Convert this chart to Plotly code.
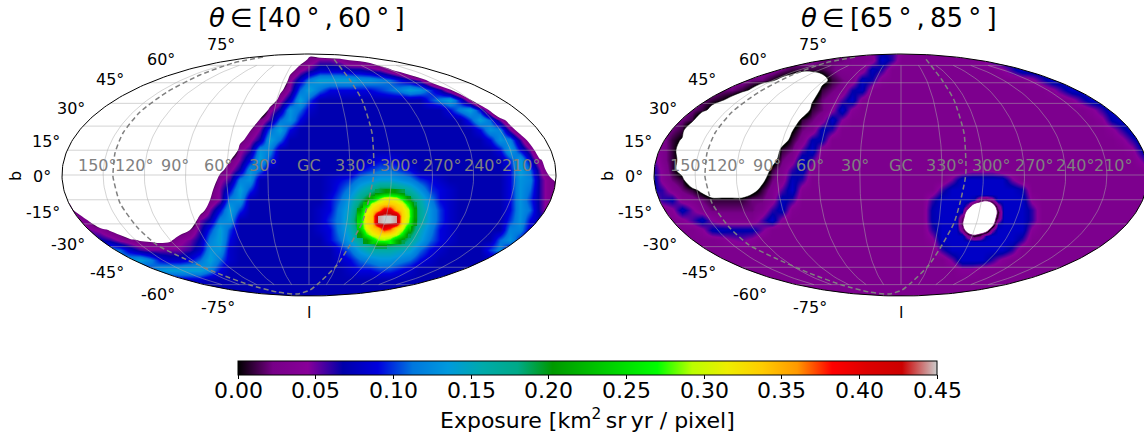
import numpy as np
import plotly.graph_objects as go

W, H = 1144, 434
FONT = "DejaVu Sans"
M = -4  # cells with no exposure in the right map
N = None

colorbar_ticks = [0.0, 0.05, 0.10, 0.15, 0.20, 0.25, 0.30, 0.35, 0.40, 0.45]
lat_labels = [75, 60, 45, 30, 15, 0, -15, -30, -45, -60, -75]
lon_labels = ["150°", "120°", "90°", "60°", "30°", "GC", "330°", "300°", "270°", "240°", "210°"]
titles = ["<i>θ</i>\u2009∈\u2009[40\u2009°\u2009,\u200960\u2009°\u2009]",
          "<i>θ</i>\u2009∈\u2009[65\u2009°\u2009,\u200985\u2009°\u2009]"]

# dashed curve, map units
plane_x = [-46, -76, -109, -142, -169, -186, -194, -196, -196, -189, -172, -152, -126, -92, -59, -32, -12, 1, 11, 28, 41, 53, 59, 64, 65, 63, 53, 41, 24]
plane_y = [118, 112, 100, 83, 63, 42, 22, 2, -2, -28, -52, -70, -83, -98, -110, -117, -119, -115, -107, -90, -70, -48, -28, -5, 5, 42, 75, 95, 117]

COLS = list(range(60, 570, 10))
ROWS = list(range(50, 310, 10))

def span(a, b, v):
    return (a, *[v] * ((b - a) // 10 + 1))

def row(base, *runs):
    out = [base] * len(COLS)
    for run in runs:
        i0 = (run[0] - 60) // 10
        for k, v in enumerate(run[1:]):
            out[i0 + k] = v
    return out

# exposure in units of 0.01, left map (theta 40-60)
left_rows = [
    row(0, (320, -8, -12, -12)),
    row(0, (310, 3, 5, 5, 4, 1.8, 1.25, .29, -2.5, -2)),
    row(0, (300, 4, 6, 8, 8, 8, 7, 7, 6, 5, 2.5, .25, -3, -10)),
    row(0, (280, -6), (290, 4, 8, 12, 14, 14, 14, 14, 13, 13, 12, 11, 9, 7, 5, 0, -5.5)),
    row(0, (280, .7), (290, 5, 11, 14, 11, 9, 9, 9, 9, 9, 10, 11, 12, 14, 13, 10, 7, 2.2, -2.7, -2)),
    row(0, (270, -2.7), (280, 4, 8, 14, 10), span(320, 420, 7), (430, 10, 12, 14, 9, 2.4, -5)),
    row(0, (260, -6), (270, 4, 7, 13, 11, 8), span(320, 440, 7), (450, 9, 12, 14, 9, 1, -10)),
    row(0, (250, -2), (260, 2.6, 6, 11, 13, 9), span(310, 460, 7), (470, 10, 14, 11, 5, -1)),
    row(0, (250, 1.7, 5, 11, 14, 9), span(300, 470, 7), (480, 9, 13, 12, 5, -.67)),
    row(0, (240, .67, 4, 7, 14, 11), span(290, 480, 7), (490, 9, 13, 12, 6, 0)),
    row(0, (230, -6, 4, 6, 13, 12), span(280, 490, 7), (500, 9, 14, 9, 5, -2)),
    row(0, (230, 1.7, 5, 9, 14, 10), span(280, 500, 7), (370, 8, 9, 9, 8), (510, 10, 14, 8, 2.4)),
    row(0, (220, .67, 4, 7, 13, 11), span(270, 500, 7), (360, 9, 10, 11, 11, 10, 9), (510, 9, 14, 11, 5, -.3)),
    row(0, (210, -2.7, 4, 6, 12, 13), span(260, 500, 7), (330, 8, 9, 10, 12, 13, 14, 14, 13, 12, 10, 9, 8), (510, 9, 13, 12, 6, 3)),
    row(7, span(60, 200, 0), (210, .7, 5, 9, 14, 10), (330, 8, 10, 12, 15, 17, 20, 20, 18, 16, 13, 10, 9, 8), (510, 9, 13, 11, 6, 3, 3)),
    row(7, (60, 3, 1.3), span(80, 200, 0), (210, 2, 5, 12, 13), (330, 9, 11, 14, 18, 22, 22, 22, 22, 20, 16, 12, 9, 8), (510, 9, 13, 10, 6, 3, 3)),
    row(7, (60, 3, 3), span(80, 190, 0), (200, -1), (210, 5, 9, 14, 10), (320, 8, 9, 12, 15, 21, 22, 22, 22, 22, 22, 17, 13, 10, 8), (510, 9, 13, 11, 6, 3, 3)),
    row(7, (60, 5, 5, 4, 1.25, -6), span(110, 180, 0), (190, -5), (200, 5, 7, 12, 13), (320, 8, 10, 12, 16, 22, 22, 22, 22, 22, 22, 17, 13, 10, 8), (510, 10, 13, 9, 7, 7, 7)),
    row(7, (60, 7, 7, 7, 5, 4, 1.55, 0, -6), span(140, 180, 0), (190, 2, 6, 10, 14, 10), (320, 8, 9, 12, 15, 20, 22, 22, 22, 22, 21, 15, 12, 9, 8), (510, 12, 12, 8)),
    row(7, (110, 6, 4, 3, 1.55, 1.25, .7, 1.25), (180, 4, 5, 7, 12, 14, 9), (330, 9, 11, 14, 17, 20, 22, 22, 21, 17, 14, 11, 9, 8), (500, 11, 13, 9)),
    row(7, (100, 11, 12, 11, 8, 6, 5, 5, 5, 5, 6, 8, 13, 13, 8), (340, 9, 11, 14, 16, 16, 16, 15, 14, 11, 9, 8), (490, 10, 12)),
    row(7, (120, 12, 13, 14, 12, 9, 8, 8, 9, 11, 14, 11, 8), (340, 8, 9, 11, 12, 13, 13, 12, 11, 9, 8)),
    row(7, (150, 10, 13, 14, 14, 14, 14, 12, 9), (350, 8, 9, 9, 10, 10, 9, 8)),
    row(7, (180, 8, 8, 8)),
    row(7),
    row(7),
]

# exposure in units of 0.01, right map (theta 65-85)
right_rows = [
    row(3, (280, 5, 6, 6, 4)),
    row(3, (230, 2, 2, 2, 3, 3, 3.5, 8, 6, 3), (390, 4, 6), span(410, 560, 7)),
    row(3, (190, 2, 1, 1, 1, 1, 2, 3, 3, 3.5, 7.5, 6, 3), (410, 4, 6), span(430, 560, 8)),
    row(3, (160, 2, 2, .5), (190, -.9, -1.5, -6, -6, -1.5), (240, 1, 2, 3, 7.5, 6.5, 3.5), (440, 4, 6), span(460, 560, 8)),
    row(3, (130, 2, 2, 1, -.5), span(170, 220, M), (230, 1, 2, 3, 6.5, 7.5, 3), (460, 4, 6), span(480, 560, 8)),
    row(3, (110, 2, 1, .3, -1.3), span(150, 210, M), (220, -.5, 2, 3, 5.5, 8, 3.5), (480, 4, 6), span(500, 560, 8)),
    row(3, (100, 2, 1, -1), span(130, 210, M), (220, 1, 2, 4, 8, 4), (500, 4, 6), span(520, 560, 8)),
    row(3, (90, 2, 1), span(110, 200, M), (210, 1, 2, 3.5, 8, 4.5), (510, 4, 7), span(530, 560, 8)),
    row(3, (80, 2, 1), span(100, 190, M), (200, -.3, 2, 3, 7.5, 6, 3), (520, 4, 6), span(540, 560, 8)),
    row(3, (80, 1, -.25), span(100, 180, M), (190, -2), (200, 1, 3, 7, 7, 3), (530, 4, 6), span(550, 560, 8)),
    row(3, (60, 4, 3, 1, -1.5), span(100, 180, M), (190, 1, 2, 5.5, 8, 3.5), (540, 4, 7, 8)),
    row(3, (60, 6, 3, 1, -1), span(100, 170, M), (180, -2, 2, 3.5, 8, 5.5), (550, 5, 8)),
    row(3, (60, 7, 4, 1, -1.5), span(100, 170, M), (180, 1, 3, 6, 7.5, 3.5), (380, 4, 4, 4), (560, 6)),
    row(3, (60, 8, 4, 2, 1), span(100, 160, M), (170, -1, 2, 3.5, 7.5, 6), (350, 3, 5, 8, 8, 8, 8, 8, 5)),
    row(3, (60, 7, 6, 3.5, 2, 1, -1), span(120, 150, M), (160, -1.5, 1, 3, 5.5, 8, 3.5), (350, 6, 8, 8, 8, 8, 8, 8, 8, 7)),
    row(3, (60, 3.5, 6, 7, 3.5, 3, 2, 1, 1, 1, 1, 2, 2, 3.5, 7.5, 6, 3), (340, 6), span(350, 430, 8), (440, 4)),
    row(3, (80, 4, 7.5, 5, 3, 2, 2, 2, 2, 2, 3, 6, 7.5, 3.5), (340, 7), span(350, 430, 8), (440, 6)),
    row(3, (90, 4, 5.5, 7.5, 4.5), (160, 3, 5.5, 8, 4), (340, 7), span(350, 430, 8), (440, 6)),
    row(3, (110, 4, 7, 7.5, 7, 7, 7, 5), (340, 6), span(350, 430, 8), (440, 4)),
    row(3, (130, 3.5, 4.5, 5, 4), (340, 4), span(350, 420, 8), (430, 6)),
    row(3, (350, 6, 8, 8, 8, 8, 8, 8, 6)),
    row(3, (360, 5, 8, 8, 8, 6, 4)),
    row(3, (370, 4, 4)),
    row(3),
    row(3),
    row(3),
]

# finer cells over the hot spot of the left map (exposure)
spot_cols = list(range(354, 426, 6))
spot_rows = list(range(192, 252, 6))
spot_z = [
    [N, N, N, N, .19, .20, .21, .20, .19, N, N, N],
    [N, N, N, .22, .27, .305, .31, .30, .26, .20, N, N],
    [N, N, .23, .305, .325, .335, .34, .33, .315, .26, .19, N],
    [N, .21, .30, .33, .35, .40, .40, .35, .33, .30, .21, N],
    [N, .24, .32, .34, .445, .45, .45, .445, .335, .305, .21, N],
    [N, .25, .32, .34, .445, .45, .45, .445, .33, .29, .20, N],
    [N, .24, .31, .335, .35, .40, .38, .335, .31, .24, N, N],
    [N, .20, .27, .31, .325, .33, .325, .31, .26, .19, N, N],
    [N, N, .20, .24, .28, .285, .27, .22, .19, N, N, N],
    [N, N, N, N, .19, .19, N, N, N, N, N, N],
]

# finer cells over the bare patch of the right map (units of 0.01)
hole_cols = list(range(364, 418, 6))
hole_rows = list(range(194, 248, 6))
hole_rows_z = [
    [8, 8, 8, 8, 8, 8, 8, 8, 8],
    [8, 8, 8, 6.7, 1.9, .6, 3.2, 8, 8],
    [8, 8, 4.2, M, M, M, M, 3.2, 8],
    [8, 6.7, M, M, M, M, M, .6, 8],
    [8, 1.9, M, M, M, M, M, 1.9, 8],
    [8, .6, M, M, M, M, M, 6.7, 8],
    [8, 3.2, M, M, M, M, 4.2, 8, 8],
    [8, 8, 3.2, .6, 1.9, 6.7, 8, 8, 8],
    [8, 8, 8, 8, 8, 8, 8, 8, 8],
]

# nipy_spectral
spectral = [
    (0, 0, 0), (.4667, 0, .5333), (.5333, 0, .6), (0, 0, .6667), (0, 0, .8667),
    (0, .4667, .8667), (0, .6, .8667), (0, .6667, .6667), (0, .6667, .5333), (0, .6, 0),
    (0, .7333, 0), (0, .8667, 0), (0, 1, 0), (.7333, 1, 0), (.9333, .9333, 0),
    (1, .8, 0), (1, .6, 0), (1, 0, 0), (.8667, 0, 0), (.8, 0, 0), (.8, .8, .8)]
colorscale = [[i / 20, "rgb(%d,%d,%d)" % tuple(round(c * 255) for c in s)] for i, s in enumerate(spectral)]

# --- geometry of the two maps ------------------------------------------------
A, B = 247.0, 121.0
CY = 175
panels = [dict(cx=309, left=55, right=565, rows=left_rows, thr=0.02, edge=0, xa="x", ya="y"),
          dict(cx=901, left=647, right=1144, rows=right_rows, thr=0.0, edge=0.5, xa="x2", ya="y2")]
TOP, BOT = 46, 304

def moll(lon_deg, lat_deg):
    lon = np.radians(np.asarray(lon_deg, float))
    lat = np.radians(np.asarray(lat_deg, float))
    th = lat.copy()
    for _ in range(60):
        d = (2 * th + np.sin(2 * th) - np.pi * np.sin(lat)) / (2 + 2 * np.cos(2 * th) + 1e-9)
        th = th - d
    return A * lon / np.pi * np.cos(th), B * np.sin(th)

def grid_xy():
    xs, ys = [], []
    for lat in range(-75, 90, 15):
        x, y = moll(np.linspace(-180, 180, 121), np.full(121, lat))
        xs += list(x) + [None]
        ys += list(y) + [None]
    for lon in range(-150, 180, 30):
        x, y = moll(np.full(81, lon), np.linspace(-75, 75, 81))
        xs += list(x) + [None]
        ys += list(y) + [None]
    return xs, ys

fig = go.Figure()
t = np.linspace(0, 2 * np.pi, 361)
gx, gy = grid_xy()
for p in panels:
    x = [c - 309 for c in COLS]
    y = [CY - r for r in ROWS][::-1]
    z = [[v * 0.01 for v in r] for r in p["rows"]][::-1]
    fig.add_trace(go.Heatmap(x=x, y=y, z=z, coloraxis="coloraxis", zsmooth="best", hoverinfo="skip",
                             xaxis=p["xa"], yaxis=p["ya"]))
    if p is panels[0]:
        fig.add_trace(go.Heatmap(x=[c - 309 for c in spot_cols], y=[CY - r for r in spot_rows][::-1],
                                 z=spot_z[::-1], coloraxis="coloraxis", zsmooth="best", hoverinfo="skip",
                                 xaxis=p["xa"], yaxis=p["ya"]))
    else:
        hx = [c - 309 for c in hole_cols]
        hy = [CY - r for r in hole_rows][::-1]
        hz = [[v * 0.01 for v in r] for r in hole_rows_z][::-1]
        fig.add_trace(go.Heatmap(x=hx, y=hy, z=hz, coloraxis="coloraxis", zsmooth="best", hoverinfo="skip",
                                 xaxis=p["xa"], yaxis=p["ya"]))
        fig.add_trace(go.Contour(x=hx, y=hy, z=hz, showscale=False, hoverinfo="skip",
                                 contours=dict(type="constraint", operation=">", value=0.0),
                                 fillcolor="white", line=dict(width=0.8, color="#800080"),
                                 xaxis=p["xa"], yaxis=p["ya"]))
    fig.add_trace(go.Contour(x=x, y=y, z=z, showscale=False, hoverinfo="skip",
                             contours=dict(type="constraint", operation=">", value=p["thr"]),
                             fillcolor="white", line=dict(width=p["edge"], color="black"),
                             xaxis=p["xa"], yaxis=p["ya"]))
    # everything outside the ellipse is white
    ex, ey = A * np.cos(t), B * np.sin(t)
    rx = [300, 300, -300, -300, 300, 300]
    ry = [0, 150, 150, -150, -150, 0]
    fig.add_trace(go.Scatter(x=rx + list(ex[::-1]), y=ry + list(ey[::-1]), mode="lines", fill="toself",
                             fillcolor="white", line=dict(width=0), hoverinfo="skip", showlegend=False,
                             xaxis=p["xa"], yaxis=p["ya"]))
    fig.add_trace(go.Scatter(x=gx, y=gy, mode="lines", line=dict(color="rgba(170,170,170,0.5)", width=1),
                             hoverinfo="skip", showlegend=False, xaxis=p["xa"], yaxis=p["ya"]))
    fig.add_trace(go.Scatter(x=plane_x, y=plane_y, mode="lines",
                             line=dict(color="#808080", width=1.5, dash="5px,3px", shape="spline", smoothing=0.6),
                             hoverinfo="skip", showlegend=False, xaxis=p["xa"], yaxis=p["ya"]))
    fig.add_trace(go.Scatter(x=list(ex), y=list(ey), mode="lines", line=dict(color="black", width=1),
                             hoverinfo="skip", showlegend=False, xaxis=p["xa"], yaxis=p["ya"]))

annotations = []

def label(px, py, text, size=16, color="black", xanchor="center", angle=0):
    annotations.append(dict(x=px / W, y=1 - py / H, xref="paper", yref="paper", text=text, showarrow=False,
                            xanchor=xanchor, yanchor="middle", textangle=angle,
                            font=dict(family=FONT, size=size, color=color)))

lat_right = [237, 177, 126, 87, 62, 53, 62, 87, 126, 177, 237]
lat_y = [45, 59, 80, 108, 141, 176, 212, 244, 272, 294, 307]
lon_x = [97, 134, 175, 218, 263, 309, 354, 399, 442, 483, 521]
title_x = [307, 899]
for k, p in enumerate(panels):
    shift = p["cx"] - 309
    for lab, rx_, ry_ in zip(lat_labels, lat_right, lat_y):
        label(rx_ + shift, ry_, f"{lab}°", xanchor="right")
    for lab, lx in zip(lon_labels, lon_x):
        label(lx + shift, 165, lab, color="#808080")
    label(15 + shift, 176, "b", angle=-90)
    label(309 + shift, 312, "l")
    label(title_x[k], 18, titles[k], size=26)
for v in colorbar_ticks:
    label(238 + v / 0.45 * 699, 390, f"{v:.2f}", size=22)
label(587, 419, "Exposure [km<sup>2</sup>\u2009sr\u2009yr / pixel]", size=22)

layout_axes = {}
for k, p in enumerate(panels):
    suffix = "" if k == 0 else "2"
    layout_axes["xaxis" + suffix] = dict(domain=[p["left"] / W, p["right"] / W],
                                         range=[p["left"] - p["cx"], p["right"] - p["cx"]],
                                         visible=False, fixedrange=True)
    layout_axes["yaxis" + suffix] = dict(domain=[1 - BOT / H, 1 - TOP / H],
                                         range=[CY - BOT, CY - TOP],
                                         visible=False, fixedrange=True)

fig.update_layout(
    width=W, height=H, margin=dict(l=0, r=0, t=0, b=0, autoexpand=False),
    paper_bgcolor="white", plot_bgcolor="white", showlegend=False,
    font=dict(family=FONT, color="black"), annotations=annotations,
    coloraxis=dict(cmin=0, cmax=0.45, colorscale=colorscale,
                   colorbar=dict(orientation="h", lenmode="pixels", len=699, thicknessmode="pixels", thickness=14,
                                 x=587.5 / W, xanchor="center", y=1 - 361 / H, yanchor="top", xpad=0, ypad=0,
                                 tickmode="array", tickvals=colorbar_ticks, showticklabels=False,
                                 ticks="outside", ticklen=4, tickcolor="black", outlinecolor="black", outlinewidth=1)),
    **layout_axes,
)
fig.write_html("out.html", config={"displayModeBar": False}, post_script="document.body.style.margin='0';")
